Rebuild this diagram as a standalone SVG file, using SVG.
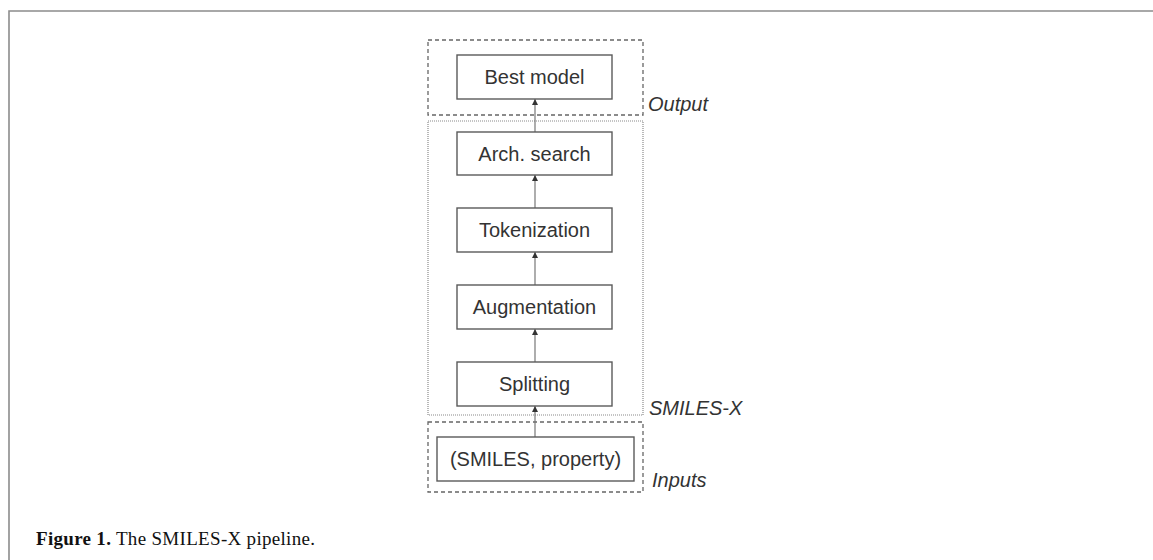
<svg xmlns="http://www.w3.org/2000/svg" width="1153" height="560" viewBox="0 0 1153 560">
  <defs>
    <marker id="arrow" viewBox="0 0 6 8" refX="6" refY="3" markerWidth="6" markerHeight="8" markerUnits="userSpaceOnUse" orient="auto">
      <path d="M0,0 L6,3 L0,6 Z" fill="#333"/>
    </marker>
    <style>
      .frame { fill: none; stroke: #8c8c8c; stroke-width: 1.6; }
      .group-dash { fill: none; stroke: #666; stroke-width: 1.3; stroke-dasharray: 4 3; }
      .group-dot { fill: none; stroke: #8a8a8a; stroke-width: 1.2; stroke-dasharray: 1 1; }
      .box { fill: #fff; stroke: #5a5a5a; stroke-width: 1.4; }
      .label { font-family: "Liberation Sans", Arial, sans-serif; font-size: 20px; fill: #333; text-anchor: middle; }
      .tag { font-family: "Liberation Sans", Arial, sans-serif; font-size: 20px; font-style: italic; fill: #333; }
      .edge { stroke: #777; stroke-width: 1.2; fill: none; marker-end: url(#arrow); }
      .caption { font-family: "Liberation Serif", "Times New Roman", serif; font-size: 19px; fill: #111; }
    </style>
  </defs>

  <rect width="1153" height="560" fill="#fff"/>

  <!-- page frame -->
  <path class="frame" d="M9,560 L9,11 L1153,11"/>

  <!-- grouping boxes -->
  <g id="group-output">
    <rect class="group-dash" x="428" y="40" width="215" height="75"/>
    <text class="tag" x="648" y="111">Output</text>
  </g>
  <g id="group-smilesx">
    <rect class="group-dot" x="428" y="121" width="215" height="294"/>
    <text class="tag" x="649" y="415">SMILES-X</text>
  </g>
  <g id="group-inputs">
    <rect class="group-dash" x="428" y="422" width="215" height="70"/>
    <text class="tag" x="652" y="487">Inputs</text>
  </g>

  <!-- connectors -->
  <g id="connectors">
    <line class="edge" x1="535" y1="437" x2="535" y2="406"/>
    <line class="edge" x1="535" y1="362" x2="535" y2="329"/>
    <line class="edge" x1="535" y1="285" x2="535" y2="252"/>
    <line class="edge" x1="535" y1="208" x2="535" y2="175"/>
    <line class="edge" x1="535" y1="132" x2="535" y2="99"/>
  </g>

  <!-- pipeline nodes -->
  <g id="node-best-model">
    <rect class="box" x="457" y="55" width="155" height="44"/>
    <text class="label" x="534.5" y="84">Best model</text>
  </g>
  <g id="node-arch-search">
    <rect class="box" x="457" y="132" width="155" height="43"/>
    <text class="label" x="534.5" y="161">Arch. search</text>
  </g>
  <g id="node-tokenization">
    <rect class="box" x="457" y="208" width="155" height="44"/>
    <text class="label" x="534.5" y="237">Tokenization</text>
  </g>
  <g id="node-augmentation">
    <rect class="box" x="457" y="285" width="155" height="44"/>
    <text class="label" x="534.5" y="314">Augmentation</text>
  </g>
  <g id="node-splitting">
    <rect class="box" x="457" y="362" width="155" height="44"/>
    <text class="label" x="534.5" y="391">Splitting</text>
  </g>
  <g id="node-inputs">
    <rect class="box" x="437" y="437" width="197" height="44"/>
    <text class="label" x="535.5" y="466">(SMILES, property)</text>
  </g>

  <!-- caption -->
  <text class="caption" x="36" y="545" textLength="279" lengthAdjust="spacing"><tspan font-weight="bold">Figure 1.</tspan> The SMILES-X pipeline.</text>
</svg>
